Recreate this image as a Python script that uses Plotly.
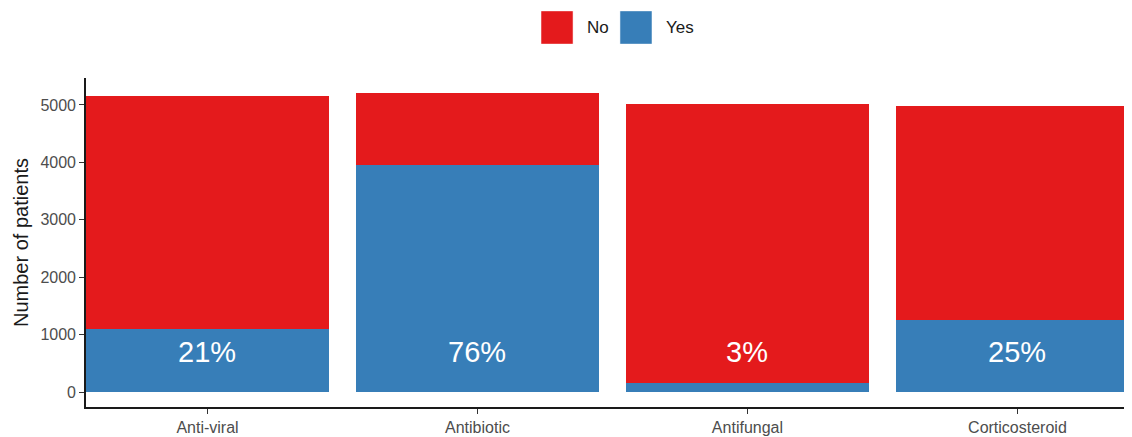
import plotly.graph_objects as go

# treatment categories and counts
categories = ["Anti-viral", "Antibiotic", "Antifungal", "Corticosteroid"]
yes_counts = [1100, 3960, 160, 1260]
no_counts = [4060, 1250, 4860, 3730]
pct_labels = ["21%", "76%", "3%", "25%"]
y_ticks = [0, 1000, 2000, 3000, 4000, 5000]

series_names = ["No", "Yes"]
series_colors = ["#E41A1C", "#377EB8"]

fig = go.Figure()
# stacked: Yes at the bottom, No on top
fig.add_trace(go.Bar(x=categories, y=yes_counts, name="Yes",
                     marker=dict(color=series_colors[1], line=dict(width=0)),
                     showlegend=False))
fig.add_trace(go.Bar(x=categories, y=no_counts, name="No",
                     marker=dict(color=series_colors[0], line=dict(width=0)),
                     showlegend=False))

# percentage labels inside the Yes part
for cat, lab in zip(categories, pct_labels):
    fig.add_annotation(x=cat, y=690, text=lab, showarrow=False,
                       font=dict(size=29, color="white"))

# legend drawn as squares + text on top (paper coords, plot width ~1054px)
legend_x = [0.4317, 0.5066]
for name, col, lx in zip(series_names, series_colors, legend_x):
    fig.add_shape(type="rect", xref="paper", yref="paper",
                  x0=lx, x1=lx + 0.0304, y0=1.103, y1=1.204,
                  fillcolor=col, line=dict(width=0.5, color="white"))
    fig.add_annotation(xref="paper", yref="paper", x=lx + 0.0437, y=1.153,
                       text=name, showarrow=False, xanchor="left", yanchor="middle",
                       xshift=-2, font=dict(size=17, color="#1a1a1a"))

# page body adds ~8px offset; the last bar runs off the right edge like the original
fig.update_layout(
    barmode="stack",
    bargap=0.1,
    width=1132, height=429,
    margin=dict(l=78, r=0, t=70, b=30, autoexpand=False),
    plot_bgcolor="white",
    paper_bgcolor="white",
    font=dict(family="Liberation Sans, Arial, sans-serif", color="#4d4d4d", size=16),
)
fig.update_xaxes(
    range=[-0.45, 3.454],
    showline=True, linecolor="#1a1a1a", linewidth=1.6,
    ticks="outside", ticklen=5, tickcolor="#333333", tickwidth=1.3,
    showgrid=False, automargin=False,
    tickfont=dict(size=16, color="#4d4d4d"),
)
fig.update_yaxes(
    range=[-260, 5470],
    tickvals=y_ticks,
    showline=True, linecolor="#1a1a1a", linewidth=1.6,
    ticks="outside", ticklen=5, tickcolor="#333333", tickwidth=1.3,
    showgrid=False, zeroline=False, automargin=False,
    tickfont=dict(size=16, color="#4d4d4d"),
    title=dict(text="Number of patients", font=dict(size=20, color="#1a1a1a"), standoff=6),
)

fig.write_html("out.html")
